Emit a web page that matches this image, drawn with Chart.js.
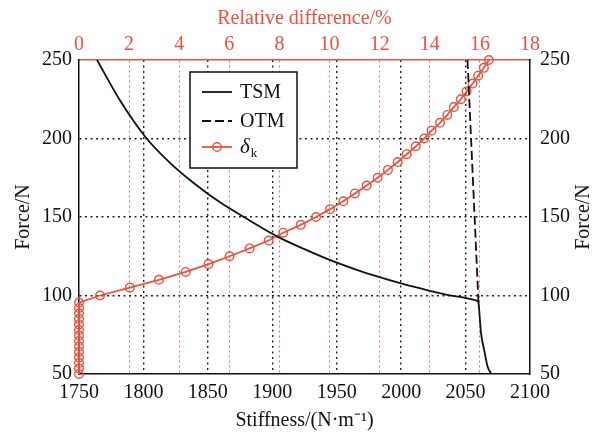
<!DOCTYPE html>
<html>
<head>
<meta charset="utf-8">
<script src="https://cdn.jsdelivr.net/npm/chart.js@4/dist/chart.umd.min.js"></script>
<style>
html,body{margin:0;padding:0;background:#fff;}
#wrap{position:relative;width:607px;height:441px;}
</style>
</head>
<body>
<div id="wrap"><canvas id="c" width="607" height="441"></canvas></div>
<script>
// ---- data ----
const tsmStiffness = [1764, 1782, 1802, 1820, 1838.5, 1860, 1883, 1904, 1925, 1945, 1965, 1984, 2002, 2020, 2038, 2059, 2060, 2061, 2062, 2064.5, 2067, 2070];
const tsmForce     = [250, 224, 200.5, 185, 172, 159, 147.5, 137.5, 129.5, 122.5, 116.5, 111.5, 107.2, 103.5, 100.1, 96.6, 95.5, 86, 76, 65, 55, 50];

const otmStiffness = [2051.5, 2060];
const otmForce     = [250, 95.5];

const deltaForce = [50, 53.5, 57, 60.5, 64, 67.5, 71, 74.5, 78, 81.5, 85, 88.5, 92, 95.5,
  100, 105, 110, 115, 120, 125, 130, 135, 140, 145, 150, 155, 160, 165, 170, 175,
  180, 185, 190, 195, 200, 205, 210, 215, 220, 225, 230, 235, 240, 245, 250];
const deltaPct = [0, 0, 0, 0, 0, 0, 0, 0, 0, 0, 0, 0, 0, 0,
  0.84, 2.03, 3.19, 4.26, 5.17, 6.01, 6.81, 7.57, 8.15, 8.85, 9.46, 10.02, 10.55, 11.01, 11.48, 11.92,
  12.33, 12.72, 13.08, 13.44, 13.78, 14.07, 14.41, 14.70, 14.96, 15.24, 15.47, 15.71, 15.93, 16.16, 16.36];

const seriesLabels = ['TSM', 'OTM', 'δk'];
const stiffnessTicks = [1750, 2100, 50];
const pctTicks = [0, 18, 2];
const forceTicks = [50, 250, 50];

const RED = '#e8523e';
const FONT = 'Liberation Serif';

const pts = (xs, ys) => xs.map((x, i) => ({x: x, y: ys[i]}));
const plain = v => String(v);

const edgeTransparent = (col, lo, hi) => (ctx) => {
  const v = ctx.tick ? ctx.tick.value : null;
  return (v === lo || v === hi) ? 'rgba(0,0,0,0)' : col;
};

const legendPlugin = {
  id: 'boxLegend',
  afterDatasetsDraw(chart) {
    const ctx = chart.ctx;
    const x0 = 190, y0 = 72, w = 107, h = 96;
    ctx.save();
    ctx.fillStyle = '#fff';
    ctx.fillRect(x0, y0, w, h);
    ctx.strokeStyle = '#111';
    ctx.lineWidth = 1.5;
    ctx.strokeRect(x0, y0, w, h);
    const rows = [92, 121, 147];
    const ds = chart.data.datasets;
    for (let i = 0; i < 3; i++) {
      const y = rows[i];
      ctx.beginPath();
      ctx.strokeStyle = ds[i].borderColor;
      ctx.lineWidth = ds[i].borderWidth;
      ctx.setLineDash(ds[i].borderDash || []);
      ctx.moveTo(202, y); ctx.lineTo(232, y);
      ctx.stroke();
      ctx.setLineDash([]);
      if (i === 2) {
        ctx.beginPath();
        ctx.lineWidth = 1.4;
        ctx.arc(217, y, 4.3, 0, Math.PI * 2);
        ctx.stroke();
      }
      ctx.fillStyle = '#111';
      ctx.textBaseline = 'middle';
      ctx.textAlign = 'left';
      if (i < 2) {
        ctx.font = '20px "' + FONT + '"';
        ctx.fillText(ds[i].label, 240, y + 1);
      } else {
        ctx.font = 'italic 21px "' + FONT + '"';
        const base = ds[i].label.charAt(0);
        ctx.fillText(base, 240, y);
        const bw = ctx.measureText(base).width;
        ctx.font = '13px "' + FONT + '"';
        ctx.fillText(ds[i].label.slice(1), 240 + bw + 1, y + 7);
      }
    }
    // right-hand axis title, reading bottom to top
    const ya = chart.scales.y;
    ctx.save();
    ctx.translate(584, (ya.top + ya.bottom) / 2);
    ctx.rotate(-Math.PI / 2);
    ctx.font = '20px "' + FONT + '"';
    ctx.fillStyle = '#111';
    ctx.textAlign = 'center';
    ctx.textBaseline = 'middle';
    ctx.fillText('Force/N', 0, 0);
    ctx.restore();
    ctx.restore();
  }
};

new Chart(document.getElementById('c'), {
  type: 'line',
  data: {
    datasets: [
      {label: seriesLabels[0], data: pts(tsmStiffness, tsmForce), xAxisID: 'x', yAxisID: 'y',
       borderColor: '#111', borderWidth: 1.8, pointRadius: 0, cubicInterpolationMode: 'monotone', fill: false},
      {label: seriesLabels[1], data: pts(otmStiffness, otmForce), xAxisID: 'x', yAxisID: 'y',
       borderColor: '#111', borderWidth: 1.8, borderDash: [9, 4], pointRadius: 0, tension: 0, fill: false},
      {label: seriesLabels[2], data: pts(deltaPct, deltaForce), xAxisID: 'x2', yAxisID: 'y', clip: false,
       borderColor: RED, borderWidth: 1.8, pointRadius: 4.3, pointBorderWidth: 1.4,
       pointBorderColor: RED, pointBackgroundColor: 'rgba(0,0,0,0)', tension: 0, fill: false}
    ]
  },
  options: {
    responsive: false,
    animation: false,
    layout: {padding: 0},
    plugins: {legend: {display: false}, tooltip: {enabled: false}},
    scales: {
      x: {
        type: 'linear', position: 'bottom',
        min: stiffnessTicks[0], max: stiffnessTicks[1],
        afterFit: s => { s.height = 67; },
        ticks: {stepSize: stiffnessTicks[2], color: '#111', padding: 7, maxRotation: 0, callback: plain,
                font: {family: FONT, size: 20}},
        grid: {drawTicks: false, color: edgeTransparent('#222', 1750, 2100), lineWidth: 1.4},
        border: {display: true, color: '#111', width: 1.5, dash: [2, 3.5]},
        title: {display: true, text: 'Stiffness/(N·m⁻¹)', color: '#111',
                font: {family: FONT, size: 20}, padding: {top: 0, bottom: 8}}
      },
      x2: {
        type: 'linear', position: 'top',
        min: pctTicks[0], max: pctTicks[1],
        afterFit: s => { s.height = 60; },
        ticks: {stepSize: pctTicks[2], color: RED, padding: 3, maxRotation: 0, callback: plain,
                font: {family: FONT, size: 20}},
        grid: {drawTicks: false, color: edgeTransparent('rgba(232,82,62,0.85)', 0, 18), lineWidth: 1},
        border: {display: true, color: RED, width: 1.5, dash: [2, 3]},
        title: {display: true, text: 'Relative difference/%', color: RED,
                font: {family: FONT, size: 20}, padding: {top: 7, bottom: 0}}
      },
      y: {
        type: 'linear', position: 'left',
        min: forceTicks[0], max: forceTicks[1],
        afterFit: s => { s.width = 79; },
        ticks: {stepSize: forceTicks[2], color: '#111', padding: 7, callback: plain,
                font: {family: FONT, size: 20}},
        grid: {drawTicks: false, color: edgeTransparent('#222', 50, 250), lineWidth: 1.4},
        border: {display: true, color: '#111', width: 1.5, dash: [2, 3.5]},
        title: {display: true, text: 'Force/N', color: '#111',
                font: {family: FONT, size: 20}, padding: {top: 12, bottom: 0}}
      },
      y2: {
        type: 'linear', position: 'right',
        min: forceTicks[0], max: forceTicks[1],
        afterFit: s => { s.width = 77; },
        ticks: {stepSize: forceTicks[2], color: '#111', padding: 10, callback: plain,
                font: {family: FONT, size: 20}},
        grid: {display: false, drawTicks: false},
        border: {display: true, color: '#111', width: 1.5}
      }
    }
  },
  plugins: [legendPlugin]
});
</script>
</body>
</html>
